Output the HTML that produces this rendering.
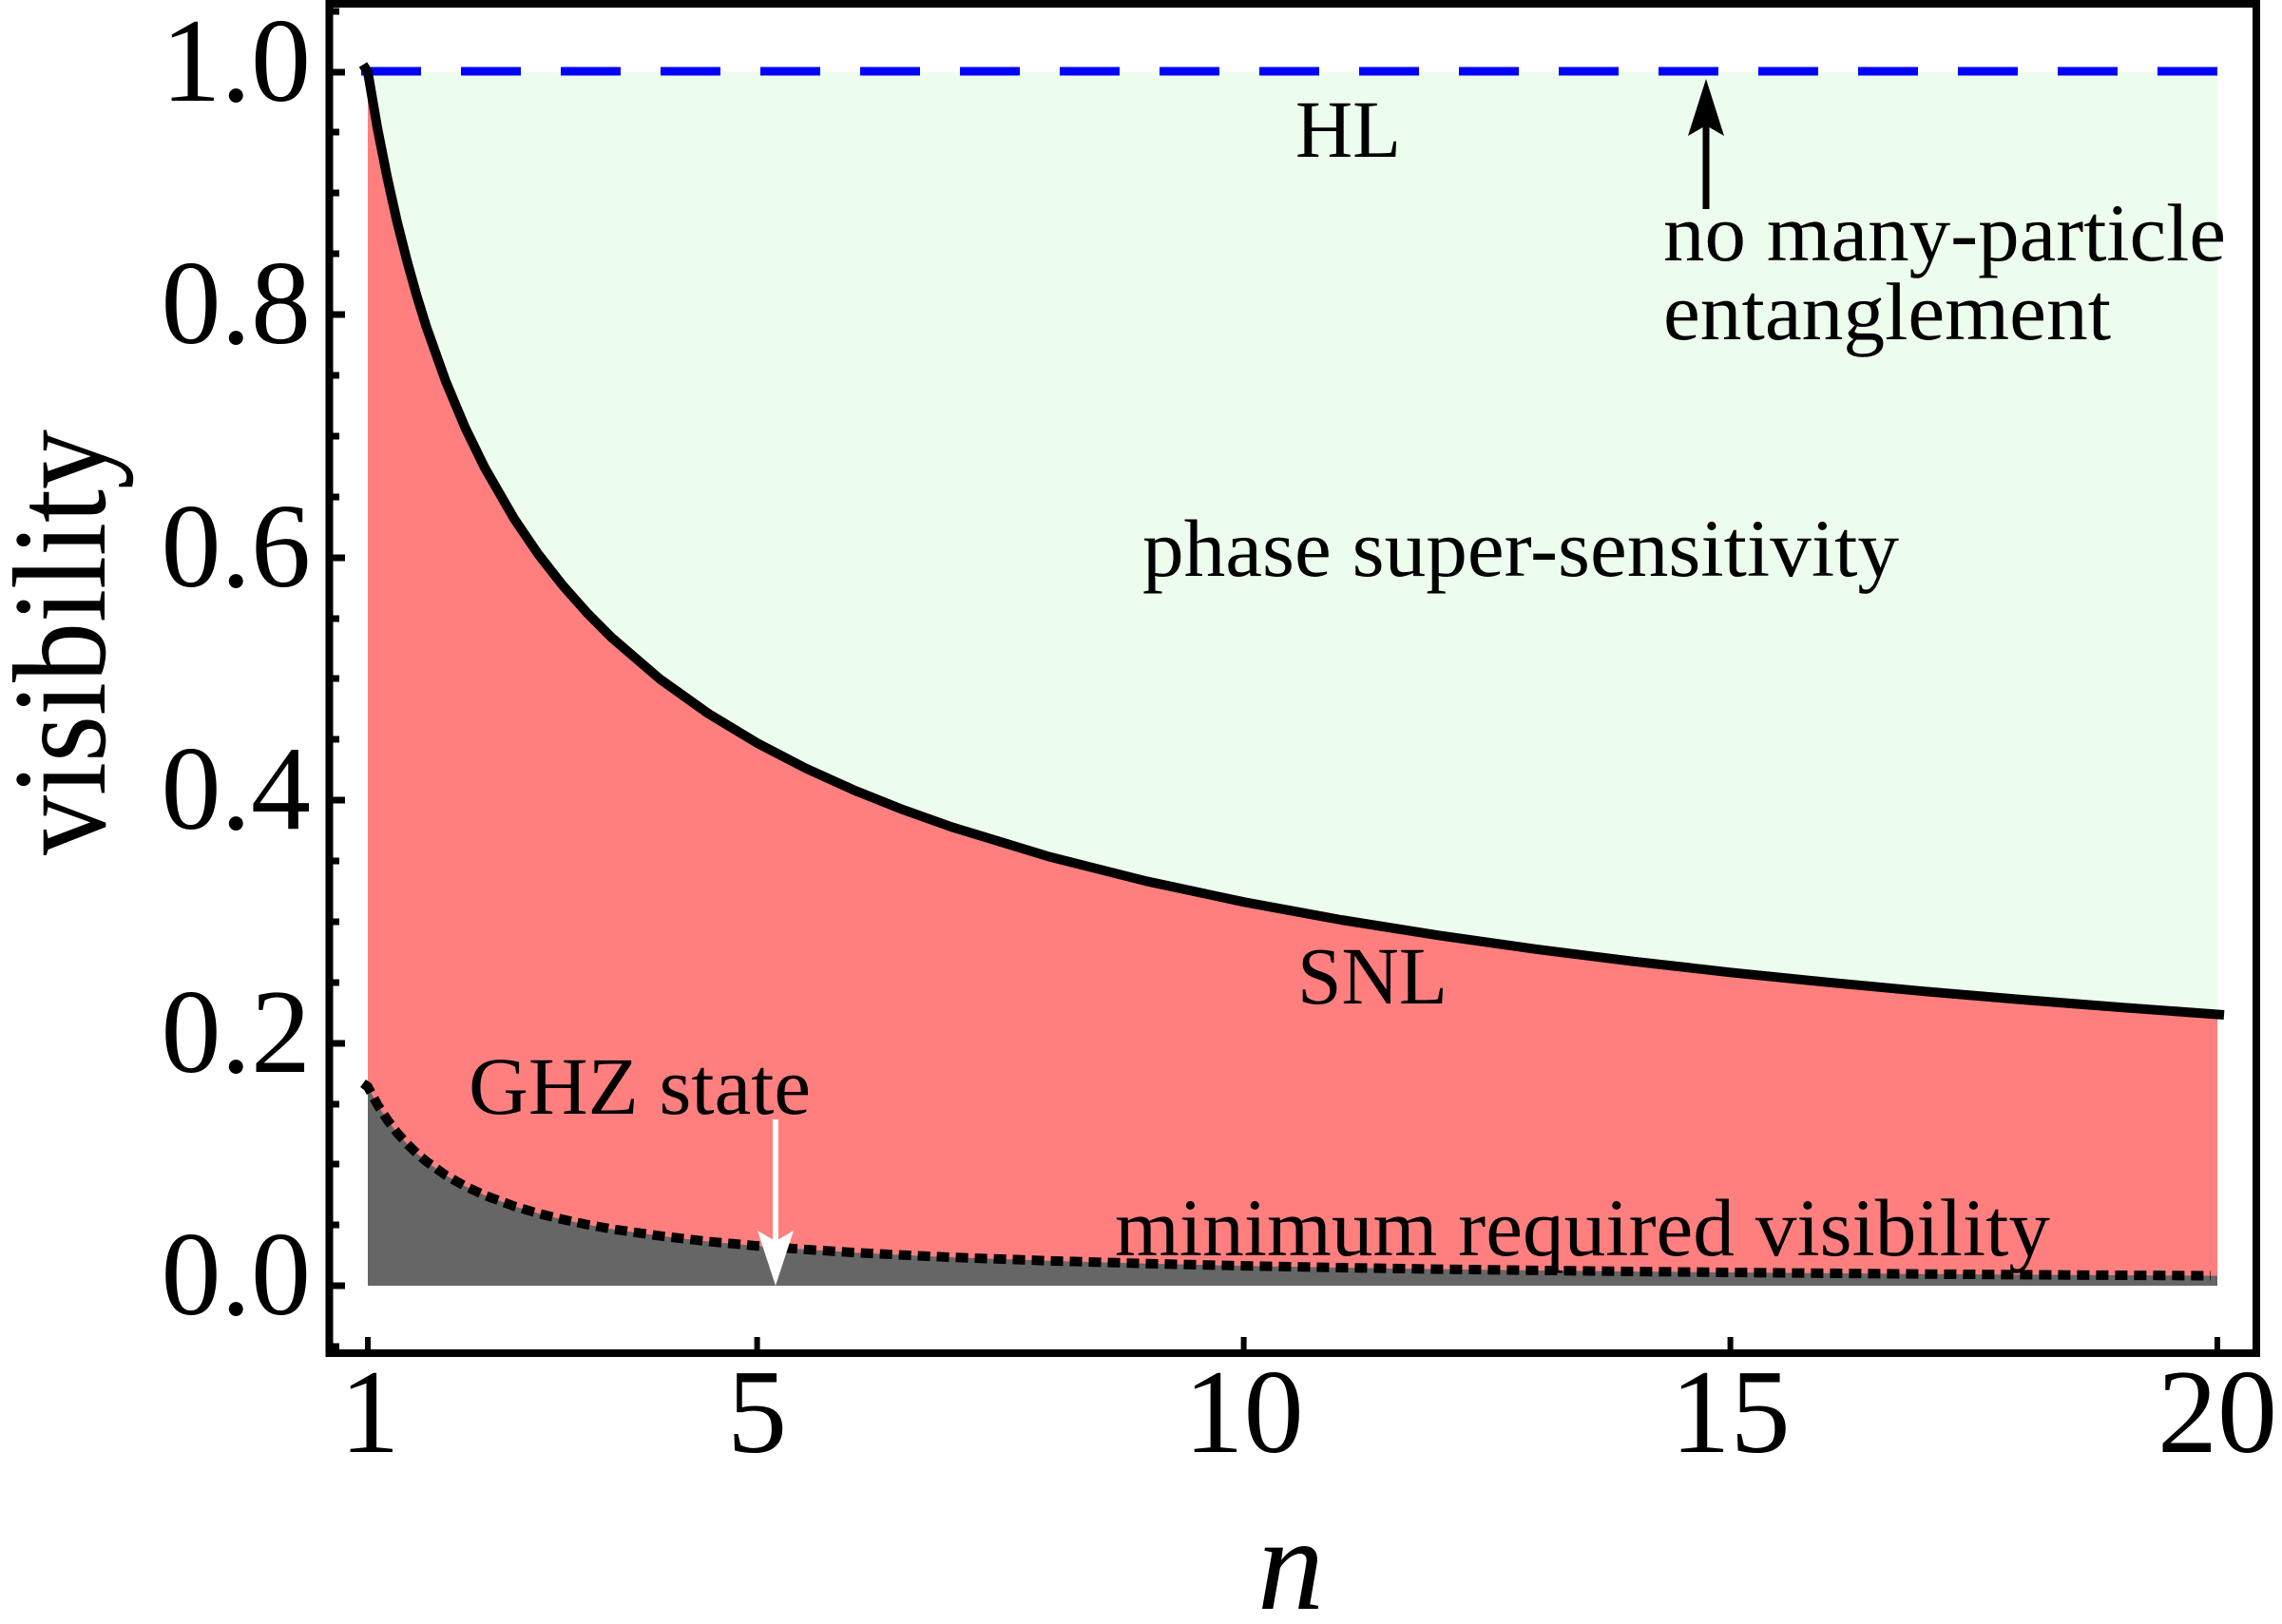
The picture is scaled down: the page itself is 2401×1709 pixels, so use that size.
<!DOCTYPE html>
<html><head><meta charset="utf-8"><style>
html,body{margin:0;padding:0;background:#fff;}
svg{display:block;}
text{font-family:"Liberation Serif","Times New Roman",serif;fill:#000;}
</style></head><body>
<svg width="2401" height="1709" viewBox="0 0 2401 1709" xmlns="http://www.w3.org/2000/svg" font-family="Liberation Serif, serif">
<rect x="0" y="0" width="2401" height="1709" fill="#fff"/>
<polygon fill="#EDFDED" points="387,76 2333,76 2333,1067.5 2230.2,1060 2127.8,1052 2025.4,1043.3 1923,1033.7 1820.6,1023.3 1718.2,1011.7 1615.8,998.8 1513.4,984.3 1411,968 1308.6,949.2 1206.2,927.3 1103.8,901.5 1001.4,870.3 950.2,852.1 899,831.7 847.8,808.5 796.6,781.9 745.4,751 694.2,714.5 643,670.4 617.4,644.6 591.8,615.7 566.2,583 540.6,545.3 509.9,492 489.4,450 468.9,401.1 448.4,343.4 438.2,310.3 428,273.7 417.7,233 407.5,187.2 397.2,135.4 387,76"/>
<polygon fill="#FF7F7F" points="387,76 397.2,135.4 407.5,187.2 417.7,233 428,273.7 438.2,310.3 448.4,343.4 468.9,401.1 489.4,450 509.9,492 540.6,545.3 566.2,583 591.8,615.7 617.4,644.6 643,670.4 694.2,714.5 745.4,751 796.6,781.9 847.8,808.5 899,831.7 950.2,852.1 1001.4,870.3 1103.8,901.5 1206.2,927.3 1308.6,949.2 1411,968 1513.4,984.3 1615.8,998.8 1718.2,1011.7 1820.6,1023.3 1923,1033.7 2025.4,1043.3 2127.8,1052 2230.2,1060 2333,1067.5 2333,1353 387,1353"/>
<polygon fill="#666666" points="387,1143.6 397.2,1162.6 407.5,1178.5 417.7,1191.9 428,1203.4 438.2,1213.4 448.4,1222.1 468.9,1236.7 489.4,1248.3 509.9,1257.8 540.6,1269.2 566.2,1276.9 591.8,1283.2 617.4,1288.6 643,1293.2 694.2,1300.6 745.4,1306.5 796.6,1311.1 847.8,1314.9 899,1318.1 950.2,1320.8 1001.4,1323.1 1103.8,1326.8 1206.2,1329.7 1308.6,1332.1 1411,1334 1513.4,1335.6 1615.8,1336.9 1718.2,1338 1820.6,1339 1923,1339.9 2025.4,1340.7 2127.8,1341.4 2230.2,1342 2333,1342.5 2333,1353 387,1353"/>
<line x1="380" y1="75" x2="2340" y2="75" stroke="#0000FF" stroke-width="9" stroke-dasharray="63 42"/>
<polyline fill="none" stroke="#000" stroke-width="10" stroke-linejoin="round" points="382,68 387,76 397.2,135.4 407.5,187.2 417.7,233 428,273.7 438.2,310.3 448.4,343.4 468.9,401.1 489.4,450 509.9,492 540.6,545.3 566.2,583 591.8,615.7 617.4,644.6 643,670.4 694.2,714.5 745.4,751 796.6,781.9 847.8,808.5 899,831.7 950.2,852.1 1001.4,870.3 1103.8,901.5 1206.2,927.3 1308.6,949.2 1411,968 1513.4,984.3 1615.8,998.8 1718.2,1011.7 1820.6,1023.3 1923,1033.7 2025.4,1043.3 2127.8,1052 2230.2,1060 2340,1068"/>
<polyline fill="none" stroke="#000" stroke-width="10" stroke-dasharray="13 7" points="382,1140 387,1143.6 397.2,1162.6 407.5,1178.5 417.7,1191.9 428,1203.4 438.2,1213.4 448.4,1222.1 468.9,1236.7 489.4,1248.3 509.9,1257.8 540.6,1269.2 566.2,1276.9 591.8,1283.2 617.4,1288.6 643,1293.2 694.2,1300.6 745.4,1306.5 796.6,1311.1 847.8,1314.9 899,1318.1 950.2,1320.8 1001.4,1323.1 1103.8,1326.8 1206.2,1329.7 1308.6,1332.1 1411,1334 1513.4,1335.6 1615.8,1336.9 1718.2,1338 1820.6,1339 1923,1339.9 2025.4,1340.7 2127.8,1341.4 2230.2,1342 2326,1342.5"/>
<rect x="346.5" y="4" width="2027.5" height="1420" fill="none" stroke="#000" stroke-width="8"/>
<g stroke="#000" stroke-width="7">
<line x1="346" y1="1353" x2="363" y2="1353"/><line x1="346" y1="1098" x2="363" y2="1098"/><line x1="346" y1="842" x2="363" y2="842"/><line x1="346" y1="587" x2="363" y2="587"/><line x1="346" y1="331" x2="363" y2="331"/><line x1="346" y1="76" x2="363" y2="76"/>
<line x1="346" y1="1417" x2="357" y2="1417"/><line x1="346" y1="1289" x2="357" y2="1289"/><line x1="346" y1="1225" x2="357" y2="1225"/><line x1="346" y1="1162" x2="357" y2="1162"/>
<line x1="346" y1="1034" x2="357" y2="1034"/><line x1="346" y1="970" x2="357" y2="970"/><line x1="346" y1="906" x2="357" y2="906"/>
<line x1="346" y1="778" x2="357" y2="778"/><line x1="346" y1="714" x2="357" y2="714"/><line x1="346" y1="651" x2="357" y2="651"/>
<line x1="346" y1="523" x2="357" y2="523"/><line x1="346" y1="459" x2="357" y2="459"/><line x1="346" y1="395" x2="357" y2="395"/>
<line x1="346" y1="267" x2="357" y2="267"/><line x1="346" y1="203" x2="357" y2="203"/><line x1="346" y1="139" x2="357" y2="139"/><line x1="346" y1="12" x2="357" y2="12"/>
</g>
<g stroke="#000" stroke-width="6">
<line x1="387" y1="1424" x2="387" y2="1407"/><line x1="796.6" y1="1424" x2="796.6" y2="1407"/><line x1="1308.6" y1="1424" x2="1308.6" y2="1407"/><line x1="1820.6" y1="1424" x2="1820.6" y2="1407"/><line x1="2333" y1="1424" x2="2333" y2="1407"/>
</g>
<g font-size="126" text-anchor="end">
<text x="327" y="1383">0.0</text><text x="327" y="1128">0.2</text><text x="327" y="872">0.4</text><text x="327" y="617">0.6</text><text x="327" y="361">0.8</text><text x="327" y="106">1.0</text>
</g>
<g font-size="126" text-anchor="middle">
<text x="389" y="1528">1</text><text x="796.6" y="1528">5</text><text x="1308.6" y="1528">10</text><text x="1820.6" y="1528">15</text><text x="2333" y="1528">20</text>
</g>
<text x="1358" y="1693" font-size="140" font-style="italic" text-anchor="middle">n</text>
<text transform="translate(110,676) rotate(-90)" font-size="140" text-anchor="middle" textLength="448" lengthAdjust="spacingAndGlyphs">visibility</text>
<g font-size="86">
<text x="1363" y="165" textLength="111" lengthAdjust="spacingAndGlyphs">HL</text>
<text x="1750" y="274" textLength="592" lengthAdjust="spacingAndGlyphs">no many-particle</text>
<text x="1750" y="357" textLength="471" lengthAdjust="spacingAndGlyphs">entanglement</text>
<text x="1202" y="606" textLength="796" lengthAdjust="spacingAndGlyphs">phase super-sensitivity</text>
<text x="1365" y="1056" textLength="158" lengthAdjust="spacingAndGlyphs">SNL</text>
<text x="493" y="1172" textLength="360" lengthAdjust="spacingAndGlyphs">GHZ state</text>
<text x="1173" y="1321" textLength="984" lengthAdjust="spacingAndGlyphs">minimum required visibility</text>
</g>
<line x1="1795" y1="220" x2="1795" y2="130" stroke="#000" stroke-width="7"/>
<polygon fill="#000" points="1795,83 1776,143 1795,132 1814,143"/>
<line x1="816" y1="1178" x2="816" y2="1310" stroke="#fff" stroke-width="6"/>
<polygon fill="#fff" points="816,1353 797,1295 816,1306 835,1295"/>
</svg>
</body></html>
